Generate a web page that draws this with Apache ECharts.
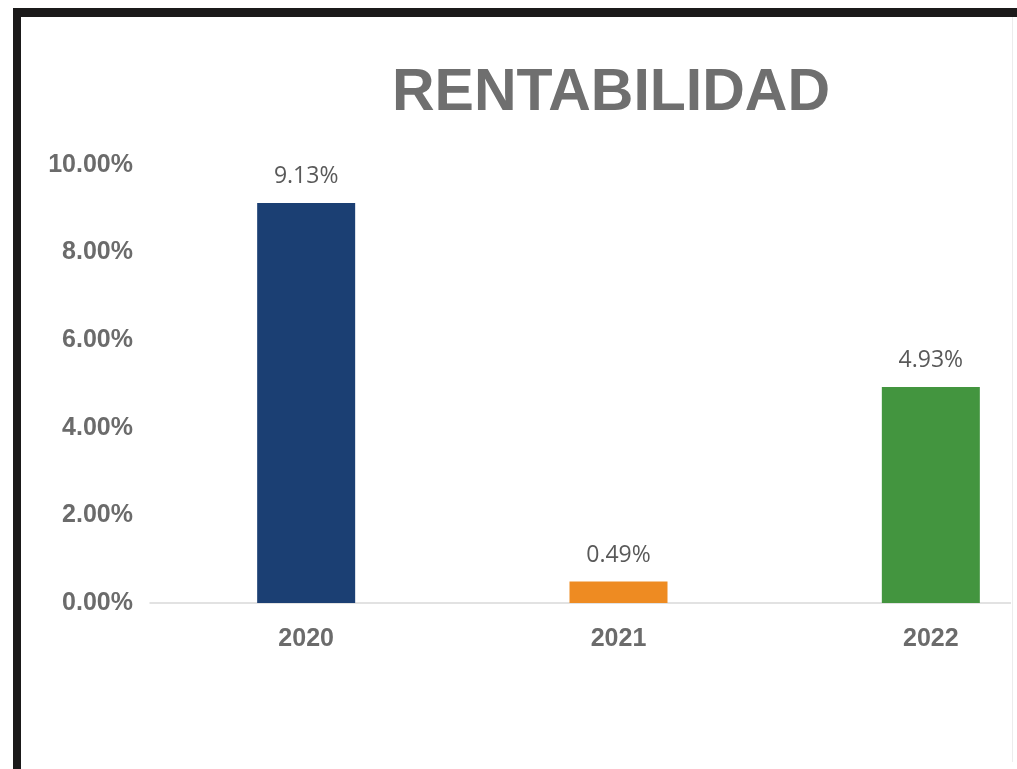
<!DOCTYPE html>
<html>
<head>
<meta charset="utf-8">
<script src="https://cdn.jsdelivr.net/npm/echarts@6/dist/echarts.min.js"></script>
<style>
  html, body { margin: 0; padding: 0; background: #fff; width: 1017px; height: 769px; overflow: hidden; }
  #wrap { position: absolute; left: 0; top: 0; width: 1011px; height: 769px; overflow: hidden; }
  #chart { position: absolute; left: 0; top: 0; width: 1100px; height: 769px; }
  #bTop { position: absolute; left: 13px; top: 8px; width: 1004px; height: 9px; background: #1b1a1a; }
  #bLeft { position: absolute; left: 13px; top: 8px; width: 8px; height: 761px; background: #1b1a1a; }
  #bRight { position: absolute; left: 1012px; top: 17px; width: 1px; height: 745px; background: #ececec; }
</style>
</head>
<body>
<div id="wrap"><div id="chart"></div></div>
<div id="bRight"></div>
<div id="bTop"></div>
<div id="bLeft"></div>
<script>
const titleText = 'RENTABILIDAD';
const categories = ['2020', '2021', '2022'];
const values = [9.13, 0.49, 4.93];
const barColors = ['#1b3f73', '#ee8b22', '#43953f'];
const yTicks = { min: 0, max: 10, interval: 2 };

const chart = echarts.init(document.getElementById('chart'), null, { renderer: 'canvas' });
chart.setOption({
  animation: false,
  backgroundColor: 'transparent',
  graphic: [{
    type: 'text',
    position: [611, 94],
    style: {
      text: titleText, x: 0, y: 0,
      font: 'bold 59px "Liberation Sans", Arial, sans-serif',
      fill: '#6f6f6f', textAlign: 'center', textVerticalAlign: 'middle'
    }
  }],
  grid: { left: 150, top: 165, width: 937, height: 438, containLabel: false },
  xAxis: {
    type: 'category',
    data: categories,
    axisLine: { lineStyle: { color: '#d9d9d9', width: 1.5 } },
    axisTick: { show: false },
    axisLabel: {
      margin: 24, color: '#6b6b6b',
      fontFamily: '"Liberation Sans", Arial, sans-serif', fontWeight: 'bold', fontSize: 25
    }
  },
  yAxis: {
    type: 'value',
    min: yTicks.min, max: yTicks.max, interval: yTicks.interval,
    axisLine: { show: false },
    axisTick: { show: false },
    splitLine: { show: false },
    axisLabel: {
      margin: 17, color: '#6b6b6b',
      fontFamily: '"Liberation Sans", Arial, sans-serif', fontWeight: 'bold', fontSize: 25,
      formatter: v => v.toFixed(2) + '%'
    }
  },
  series: [{
    type: 'bar',
    barWidth: 98,
    data: values.map((v, i) => ({ value: v, itemStyle: { color: barColors[i] } })),
    label: {
      show: true, position: 'top', distance: 15,
      color: '#595959', fontFamily: '"Open Sans", sans-serif', fontSize: 23,
      formatter: p => p.value.toFixed(2) + '%'
    }
  }]
});
</script>
</body>
</html>
